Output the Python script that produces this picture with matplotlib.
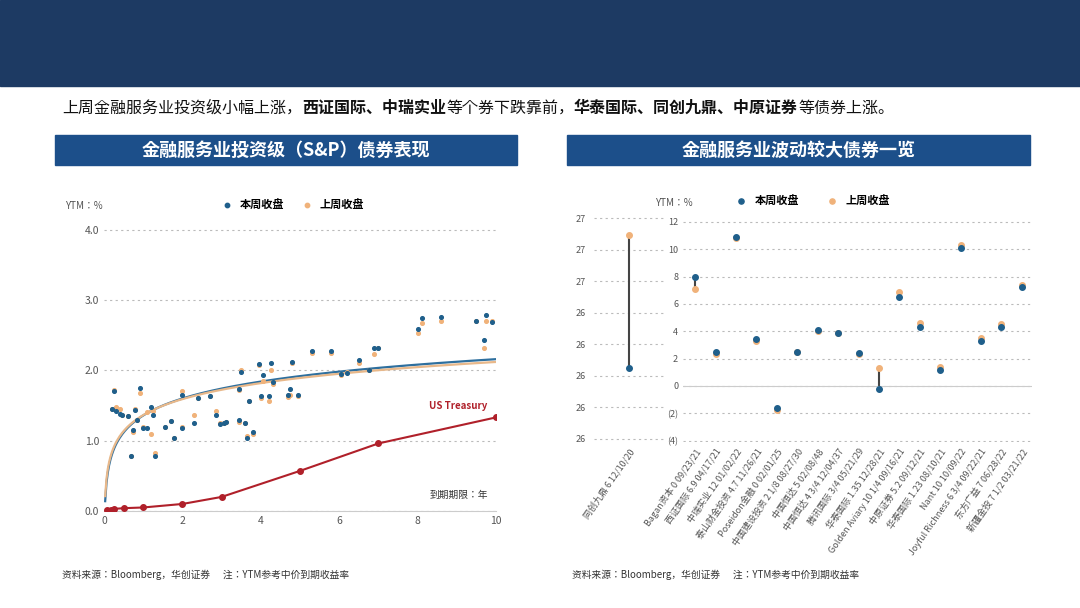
import numpy as np
import matplotlib
matplotlib.use("Agg")
import matplotlib.pyplot as plt
from matplotlib.patches import Rectangle

plt.rcParams["font.family"] = ["Noto Sans CJK SC", "Noto Sans CJK JP", "Noto Sans CJK TC",
                               "DejaVu Sans"]

# ---- 左图：投资级散点 (期限, 本周, 上周) ----
ig_term = [0.2, 0.25, 0.3, 0.4, 0.45, 0.6, 0.68, 0.75, 0.8, 0.85, 0.92, 1.0, 1.1, 1.2,
           1.25, 1.3, 1.55, 1.7, 1.78, 2.0, 2.0, 2.3, 2.4, 2.7, 2.85, 2.95, 3.05, 3.1,
           3.45, 3.45, 3.5, 3.6, 3.65, 3.7, 3.8, 3.95, 4.0, 4.05, 4.2, 4.25, 4.3, 4.7,
           4.75, 4.8, 4.95, 5.3, 5.8, 6.05, 6.2, 6.5, 6.75, 6.9, 7.0, 8.0, 8.1, 8.6,
           9.5, 9.7, 9.75, 9.9]
ig_this = [1.45, 1.7, 1.42, 1.38, 1.36, 1.35, 0.78, 1.15, 1.43, 1.3, 1.75, 1.18, 1.18, 1.48,
           1.37, 0.78, 1.2, 1.28, 1.04, 1.65, 1.18, 1.25, 1.6, 1.63, 1.37, 1.24, 1.25, 1.26,
           1.29, 1.73, 1.97, 1.25, 1.04, 1.56, 1.12, 2.09, 1.64, 1.93, 1.64, 2.1, 1.83, 1.65,
           1.74, 2.12, 1.65, 2.27, 2.28, 1.95, 1.96, 2.15, 2.01, 2.31, 2.32, 2.59, 2.74, 2.75,
           2.7, 2.43, 2.79, 2.68]
ig_last = [1.45, 1.72, 1.48, 1.45, 1.36, 1.35, 0.78, 1.12, 1.45, 1.3, 1.67, 1.2, 1.4, 1.1,
           1.42, 0.82, 1.2, 1.28, 1.04, 1.7, 1.2, 1.37, 1.6, 1.63, 1.42, 1.25, 1.25, 1.26,
           1.27, 1.72, 2.0, 1.25, 1.06, 1.56, 1.1, 2.07, 1.6, 1.85, 1.57, 2.0, 1.8, 1.62,
           1.65, 2.1, 1.63, 2.24, 2.25, 1.93, 1.97, 2.1, 2.01, 2.23, 2.31, 2.53, 2.67, 2.7,
           2.7, 2.32, 2.7, 2.7]
ust_term = [0.08, 0.17, 0.25, 0.5, 1, 2, 3, 5, 7, 10]
ust_ytm = [0.01, 0.02, 0.03, 0.04, 0.05, 0.1, 0.2, 0.57, 0.96, 1.33]

# ---- 右图：波动较大债券 ----
big_name = ["同创九鼎 6 12/10/20"]
big_this = [26.45]
big_last = [27.29]
big_ticks = [27.4, 27.2, 27.0, 26.8, 26.6, 26.4, 26.2, 26.0]
big_ticklabels = ["27", "27", "27", "26", "26", "26", "26", "26"]

bond_names = ["Bagan资本 0 09/23/21", "西证国际 6.9 04/17/21", "中瑞实业 12 01/02/22",
              "泰山财金投资 4.7 11/26/21", "Poseidon金融 0 02/01/25",
              "中国建设投资 2 1/8 08/27/30", "中国恒达 5 02/08/48",
              "中国恒达 4 3/4 12/04/37", "腾讯国际 3/4 05/21/29",
              "华泰国际 1.35 12/28/21", "Golden Aviary 10 1/4 09/16/21",
              "中原证券 5.2 09/12/21", "华泰国际 1.23 08/10/21", "Nant 10 10/09/22",
              "Joyful Richness 6 3/4 09/22/21", "东方广益 7 06/28/22",
              "新疆金投 7 1/2 03/21/22"]
bond_this = [8.0, 2.5, 10.9, 3.4, -1.6, 2.5, 4.1, 3.9, 2.4, -0.25, 6.5, 4.3, 1.2, 10.1, 3.3, 4.3, 7.2]
bond_last = [7.1, 2.3, 10.8, 3.3, -1.75, 2.45, 4.05, 3.85, 2.35, 1.3, 6.9, 4.6, 1.4, 10.3, 3.5, 4.5, 7.35]
right_yticks = [12, 10, 8, 6, 4, 2, 0, -2, -4]
right_yticklabels = ["12", "10", "8", "6", "4", "2", "0", "(2)", "(4)"]

BLUE = "#1f5f8b"
ORANGE = "#f0b27a"
NAVY = "#1d3a63"
GRAY = "#555555"

W, H = 1080, 608
fig = plt.figure(figsize=(10.8, 6.08), dpi=100)


def rect(x0, y0, x1, y1):
    return [x0 / W, 1 - y1 / H, (x1 - x0) / W, (y1 - y0) / H]


# 顶部横幅与标题条
fig.patches.append(Rectangle((0, 1 - 86 / H), 1, 86 / H, transform=fig.transFigure,
                             color=NAVY, zorder=0))
for x0, x1, title in [(55, 517, "金融服务业投资级（S&P）债券表现"),
                      (567, 1030, "金融服务业波动较大债券一览")]:
    fig.patches.append(Rectangle((x0 / W, 1 - 165 / H), (x1 - x0) / W, 30 / H,
                                 transform=fig.transFigure, color="#1c4f8a", zorder=0))
    fig.text((x0 + x1) / 2 / W, 1 - 150 / H, title, color="white", fontsize=13,
             fontweight="bold", ha="center", va="center")

# 小标题（分段加粗）
parts = [("上周金融服务业投资级小幅上涨，", "normal"), ("西证国际、中瑞实业", "bold"),
         ("等个券下跌靠前，", "normal"), ("华泰国际、同创九鼎、中原证券", "bold"),
         ("等债券上涨。", "normal")]
xpos = 62 / W
for txt, wt in parts:
    t = fig.text(xpos, 1 - 108 / H, txt, fontsize=11.5, fontweight=wt, va="center",
                 color="#111111")
    fig.canvas.draw()
    bb = t.get_window_extent()
    xpos += bb.width / W

# ---- 左图 ----
ax = fig.add_axes(rect(104, 226, 496, 511))
ax.scatter(ig_term, ig_last, s=7, color=ORANGE, zorder=3)
ax.scatter(ig_term, ig_this, s=7, color=BLUE, zorder=3)
lx = np.linspace(0.03, 10, 300)
for ys, c in [(ig_this, "#2e6f9e"), (ig_last, "#e8b88a")]:
    b, a = np.polyfit(np.log(ig_term), ys, 1)
    ax.plot(lx, a + b * np.log(lx), color=c, lw=1.6, zorder=2)
ax.plot(ust_term, ust_ytm, color="#b0202a", lw=1.5, marker="o", ms=4, zorder=4)
ax.text(8.3, 1.45, "US Treasury", color="#b0202a", fontsize=7, fontweight="bold")
ax.text(8.3, 0.18, "到期期限：年", fontsize=7, color="#333333")
ax.set_xlim(0, 10)
ax.set_ylim(0, 4.05)
ax.set_yticks([0, 1, 2, 3, 4])
ax.set_yticklabels(["0.0", "1.0", "2.0", "3.0", "4.0"])
ax.set_xticks([0, 2, 4, 6, 8, 10])
ax.yaxis.grid(True, ls=(0, (2, 3)), color="#bbbbbb", lw=0.8)
for s in ["top", "right", "left"]:
    ax.spines[s].set_visible(False)
ax.spines["bottom"].set_color("#cccccc")
ax.tick_params(length=0, labelsize=7.5, colors=GRAY)
fig.text(65 / W, 1 - 209 / H, "YTM：%", fontsize=7, color=GRAY)
ax.scatter([], [], s=10, color=BLUE, label="本周收盘")
ax.scatter([], [], s=10, color=ORANGE, label="上周收盘")
fig.legend(*ax.get_legend_handles_labels(), loc="center", ncol=2, frameon=False,
           bbox_to_anchor=(290 / W, 1 - 204 / H), handletextpad=0.2,
           columnspacing=1.0, prop={"weight": "bold", "size": 8})

# ---- 右图：左侧小轴 ----
ax2 = fig.add_axes(rect(594, 215, 664, 442))
ax2.vlines(range(len(big_name)), big_this, big_last, color="#444444", lw=1.5)
ax2.scatter(range(len(big_name)), big_last, s=16, color=ORANGE, zorder=3)
ax2.scatter(range(len(big_name)), big_this, s=16, color=BLUE, zorder=3)
ax2.set_ylim(25.98, 27.42)
ax2.set_yticks(big_ticks)
ax2.set_yticklabels(big_ticklabels)
ax2.set_xlim(-0.8, 0.8)
ax2.set_xticks(range(len(big_name)))
ax2.set_xticklabels(big_name, rotation=55, ha="right", rotation_mode="anchor")
ax2.yaxis.grid(True, ls=(0, (2, 3)), color="#bbbbbb", lw=0.8)
for s in ["top", "right", "left", "bottom"]:
    ax2.spines[s].set_visible(False)
ax2.tick_params(length=0, labelsize=6.5, colors=GRAY)
ax2.tick_params(axis="y", pad=6)

# ---- 右图：主轴 ----
ax3 = fig.add_axes(rect(683, 215, 1032, 442))
xs = np.arange(len(bond_names))
ax3.vlines(xs, bond_this, bond_last, color="#444444", lw=1.5)
ax3.scatter(xs, bond_last, s=16, color=ORANGE, zorder=3)
ax3.scatter(xs, bond_this, s=16, color=BLUE, zorder=3)
ax3.set_ylim(-4.1, 12.5)
ax3.set_yticks(right_yticks)
ax3.set_yticklabels(right_yticklabels)
for lab in ax3.get_yticklabels():
    if lab.get_text().startswith("("):
        lab.set_color("#c0392b")
ax3.set_xlim(-0.6, len(bond_names) - 0.5)
ax3.set_xticks(xs)
ax3.set_xticklabels(bond_names, rotation=55, ha="right", rotation_mode="anchor")
ax3.yaxis.grid(True, ls=(0, (2, 3)), color="#bbbbbb", lw=0.8)
ax3.axhline(0, color="#cccccc", lw=0.8)
for s in ["top", "right", "left", "bottom"]:
    ax3.spines[s].set_visible(False)
ax3.tick_params(length=0, labelsize=6.5, colors=GRAY)
fig.text(655 / W, 1 - 206 / H, "YTM：%", fontsize=7, color=GRAY)
ax3.scatter([], [], s=14, color=BLUE, label="本周收盘")
ax3.scatter([], [], s=14, color=ORANGE, label="上周收盘")
fig.legend(*ax3.get_legend_handles_labels(), loc="center", ncol=2, frameon=False,
           bbox_to_anchor=(810 / W, 1 - 200 / H), handletextpad=0.2,
           columnspacing=2.0, prop={"weight": "bold", "size": 8})

# 资料来源
for x in (62, 572):
    fig.text(x / W, 1 - 578 / H, "资料来源：Bloomberg，华创证券      注：YTM参考中价到期收益率",
             fontsize=7, color="#333333")

fig.savefig("out.png", dpi=100)
